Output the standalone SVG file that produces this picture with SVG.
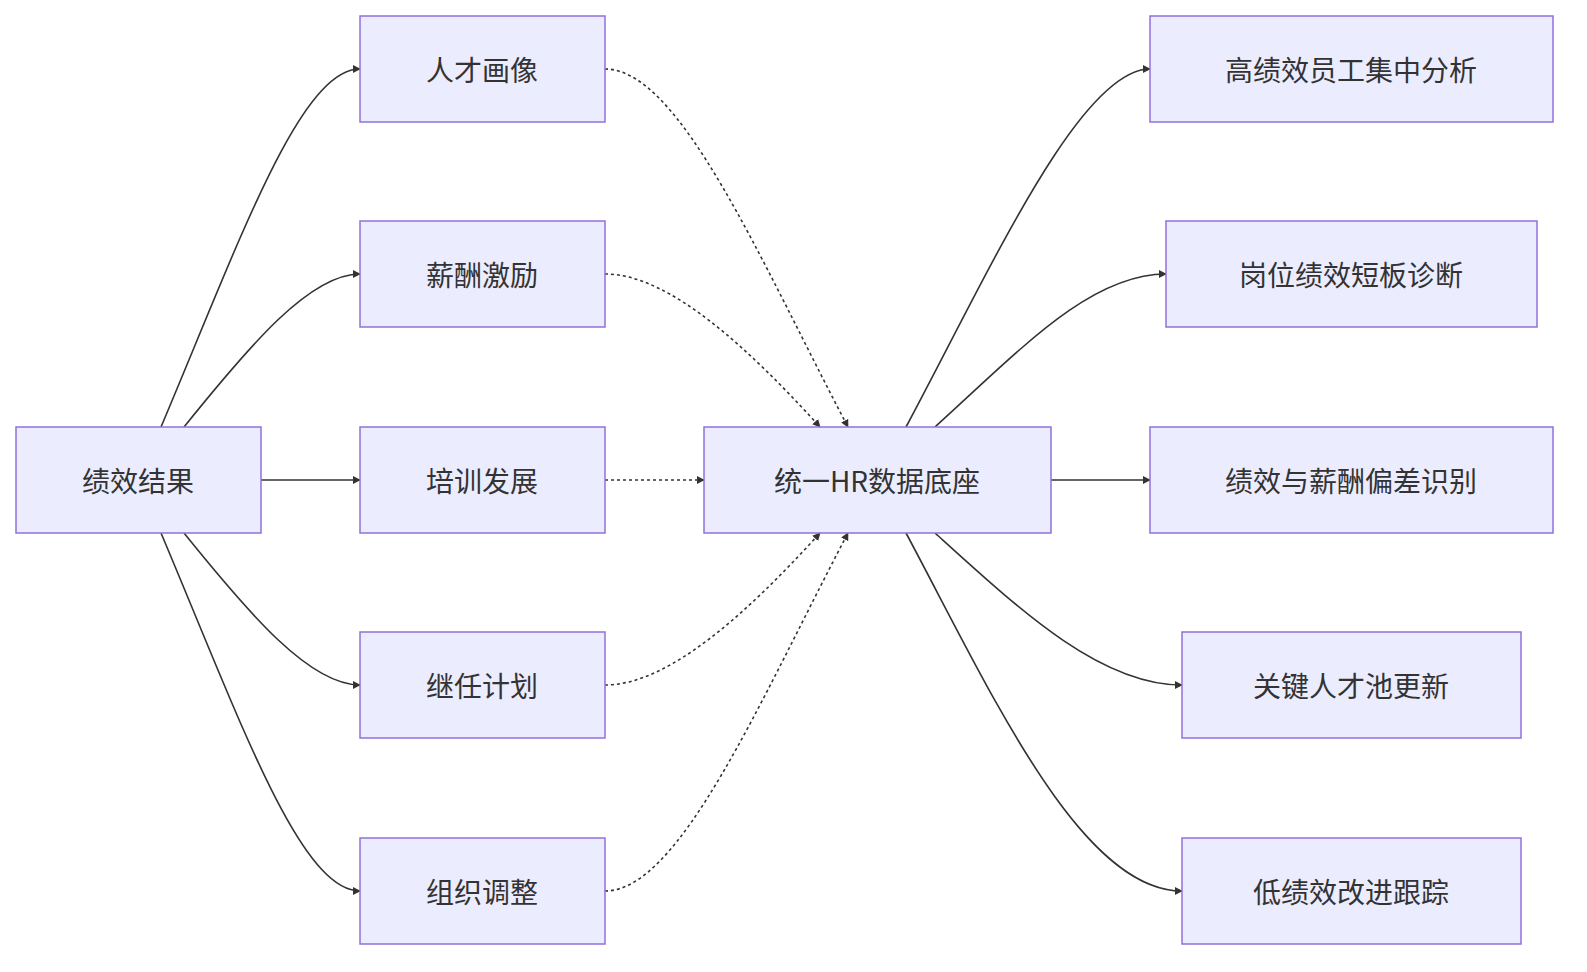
<svg xmlns="http://www.w3.org/2000/svg" width="1587" height="972" viewBox="0 0 1587 972">
<style>
.n rect{fill:#ECECFF;stroke:#9370DB;stroke-width:1.5}
.n text{font-family:"Noto Sans CJK SC","Noto Sans",sans-serif;font-size:28px;fill:#333;text-anchor:middle;dominant-baseline:central}
.e path{fill:none;stroke:#333;stroke-width:1.6;marker-end:url(#a)}
.e .d{stroke-dasharray:3,3}
</style>
<defs><marker id="a" viewBox="0 0 10 10" refX="9" refY="5" markerWidth="8" markerHeight="8" markerUnits="userSpaceOnUse" orient="auto"><path d="M0,0L10,5L0,10z" fill="#333"/></marker></defs>
<rect width="1587" height="972" fill="#fff"/>
<g class="e">
<path d="M161,427 C240,240 300,69 360,69"/>
<path d="M184,427 C250,345 310,274 360,274"/>
<path d="M261,480 L360,480"/>
<path d="M184,533 C250,615 310,685 360,685"/>
<path d="M161,533 C240,720 300,891 360,891"/>
<path class="d" d="M605,69 C680,69 760,260 848,427"/>
<path class="d" d="M605,274 C670,274 750,350 820,427"/>
<path class="d" d="M605,480 L704,480"/>
<path class="d" d="M605,685 C670,685 750,610 820,533"/>
<path class="d" d="M605,891 C680,891 760,700 848,533"/>
<path d="M906,427 C990,270 1080,69 1150,69"/>
<path d="M935,427 C1020,350 1090,274 1166,274"/>
<path d="M1051,480 L1150,480"/>
<path d="M935,533 C1020,610 1100,685 1182,685"/>
<path d="M906,533 C990,690 1080,891 1182,891"/>
</g>
<g id="n0" class="n"><rect x="16" y="427" width="245" height="106"/><text x="138" y="480">绩效结果</text></g>
<g id="n1" class="n"><rect x="360" y="16" width="245" height="106"/><text x="482" y="69">人才画像</text></g>
<g id="n2" class="n"><rect x="360" y="221" width="245" height="106"/><text x="482" y="274">薪酬激励</text></g>
<g id="n3" class="n"><rect x="360" y="427" width="245" height="106"/><text x="482" y="480">培训发展</text></g>
<g id="n4" class="n"><rect x="360" y="632" width="245" height="106"/><text x="482" y="685">继任计划</text></g>
<g id="n5" class="n"><rect x="360" y="838" width="245" height="106"/><text x="482" y="891">组织调整</text></g>
<g id="n6" class="n"><rect x="704" y="427" width="347" height="106"/><text x="877" y="480">统一HR数据底座</text></g>
<g id="n7" class="n"><rect x="1150" y="16" width="403" height="106"/><text x="1351" y="69">高绩效员工集中分析</text></g>
<g id="n8" class="n"><rect x="1166" y="221" width="371" height="106"/><text x="1351" y="274">岗位绩效短板诊断</text></g>
<g id="n9" class="n"><rect x="1150" y="427" width="403" height="106"/><text x="1351" y="480">绩效与薪酬偏差识别</text></g>
<g id="n10" class="n"><rect x="1182" y="632" width="339" height="106"/><text x="1351" y="685">关键人才池更新</text></g>
<g id="n11" class="n"><rect x="1182" y="838" width="339" height="106"/><text x="1351" y="891">低绩效改进跟踪</text></g>
</svg>
